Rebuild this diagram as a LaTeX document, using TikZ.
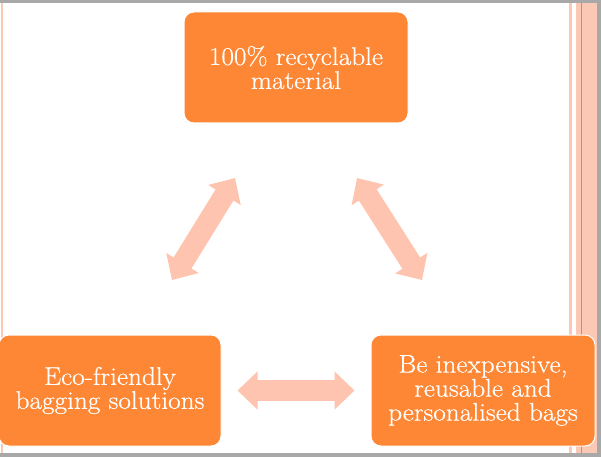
\documentclass[tikz,border=0pt]{standalone}
\usepackage{fontspec}
\setmainfont{Latin Modern Roman}[FakeStretch=1.07,FakeBold=0.5]
\usetikzlibrary{arrows.meta}
\definecolor{boxorange}{HTML}{FD8734}
\definecolor{arrowpink}{HTML}{FFC4AF}
\definecolor{stripepink}{HTML}{FCC8B6}
\definecolor{lineorange}{HTML}{F0843E}
\definecolor{framegray}{HTML}{A8A8A8}
\tikzset{
  cyclebox/.style={rectangle, rounded corners=10pt, fill=boxorange, draw=white,
    line width=1pt, text=white, align=center,
    font=\fontsize{25.5}{24}\selectfont, minimum height=111pt, inner sep=0pt},
  cyclearrow/.style={draw=arrowpink, line width=21pt,
    {Triangle[width=37pt,length=20pt]}-{Triangle[width=37pt,length=20pt]}}
}
\begin{document}
\begin{tikzpicture}[x=1pt,y=-1pt]
\useasboundingbox (0,0) rectangle (601,457);
\fill[white] (0,0) rectangle (601,457);
% side stripes
\fill[stripepink] (1.2,3) rectangle (3,453);
\fill[stripepink] (569.3,3) rectangle (571.7,453);
\fill[stripepink] (576,3) rectangle (597,453);
\fill[lineorange] (580.7,3) rectangle (581.7,453);
% frame
\fill[framegray] (0,0) rectangle (601,3);
\fill[framegray] (0,453) rectangle (601,457);
\fill[framegray] (597,0) rectangle (601,457);
% boxes
\node[cyclebox, minimum width=224pt] (top) at (296,67.5) {100\% recyclable\\material};
\node[cyclebox, minimum width=222pt] (eco) at (110,390.5) {Eco-friendly\\bagging solutions};
\node[cyclebox, minimum width=224pt] (cheap) at (483,390.5) {Be inexpensive,\\reusable and\\personalised bags};
% arrow ends
\coordinate (ecoend) at (172,280);
\coordinate (topleft) at (235,178);
\coordinate (topright) at (357,178);
\coordinate (cheapend) at (422,280);
% arrows
\draw[cyclearrow] (ecoend) -- (topleft);
\draw[cyclearrow] (topright) -- (cheapend);
\draw[cyclearrow, shorten <=16pt, shorten >=16pt] (eco.east) -- (cheap.west);
\end{tikzpicture}
\end{document}
